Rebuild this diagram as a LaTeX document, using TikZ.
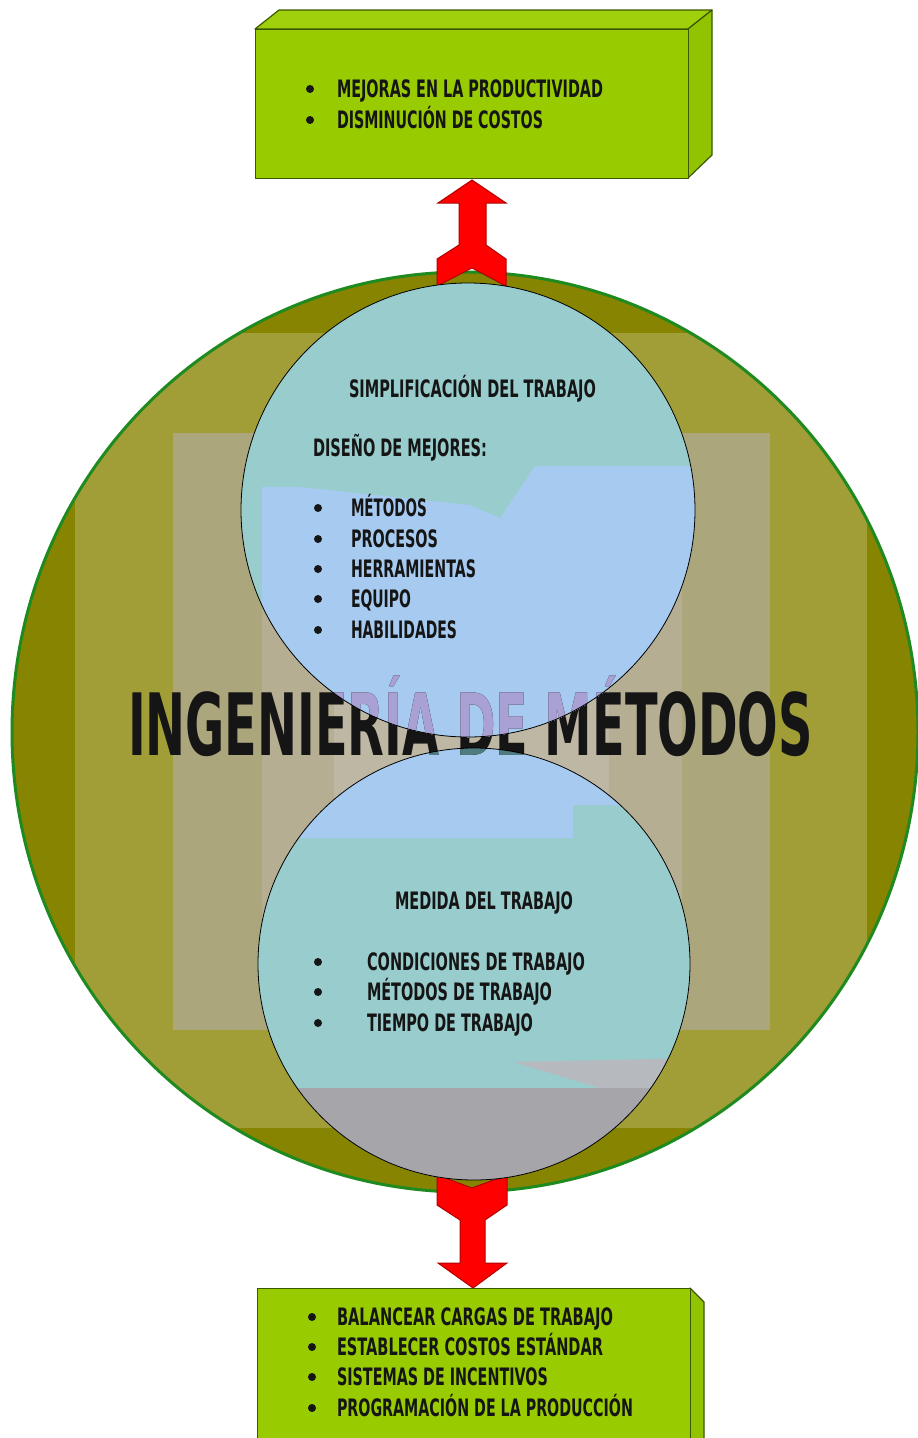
\documentclass[tikz,border=0pt]{standalone}
\usepackage{fontspec}
\usepackage{graphicx}
\newfontfamily\agency{DejaVu Sans}
\newcommand{\fw}[2]{\resizebox{#1pt}{\height}{#2}}
\definecolor{olivezero}{HTML}{868400}
\definecolor{bandA}{HTML}{A19E38}
\definecolor{bandB}{HTML}{ABA67C}
\definecolor{bandC}{HTML}{B5AE92}
\definecolor{bandD}{HTML}{BEB7A3}
\definecolor{cteal}{HTML}{99CCCC}
\definecolor{cblue}{HTML}{A6CAF0}
\definecolor{cgray}{HTML}{A5A5AA}
\definecolor{clgray}{HTML}{B6B9BD}
\definecolor{lav}{HTML}{A9A1D4}
\definecolor{dteal}{HTML}{4F7B7F}
\definecolor{boxgreen}{HTML}{99CC00}
\definecolor{boxtop}{HTML}{A0D00C}
\definecolor{boxside}{HTML}{92C300}
\definecolor{boxline}{HTML}{3B5800}
\definecolor{ringgreen}{HTML}{1F8A1F}
\definecolor{arrowred}{HTML}{FF0000}
\definecolor{arrowline}{HTML}{B00000}
\definecolor{ink}{HTML}{151515}
\begin{document}
\begin{tikzpicture}[x=1pt,y=-1pt,
  txt/.style={anchor=base west, inner sep=0pt, outer sep=0pt, text=ink,
    font=\agency\bfseries\fontsize{24}{24}\selectfont},
  ttl/.style={anchor=base west, inner sep=0pt, outer sep=0pt,
    font=\agency\bfseries\fontsize{86}{86}\selectfont},
  bul/.style={circle, fill=ink, inner sep=0pt, minimum size=8pt},
  face/.style={draw=boxline, line width=1.2pt, line join=round},
  redarrow/.style={fill=arrowred, draw=arrowline, line width=1pt, line join=miter},
  ring/.style={draw=black, line width=0.8pt}]
\useasboundingbox (0,0) rectangle (918,1438);

% big circle with rectangular gradient bands
\begin{scope}
  \clip (465,732) ellipse [x radius=453, y radius=460];
  \fill[olivezero] (0,250) rectangle (918,1200);
  \fill[bandA] (75,333) rectangle (867,1128);
  \fill[bandB] (173,433) rectangle (770,1030);
  \fill[bandC] (262,525) rectangle (682,935);
  \fill[bandD] (334,610) rectangle (609,850);
\end{scope}
\draw[ringgreen, line width=3pt] (465,732) ellipse [x radius=453, y radius=460];
\coordinate (bigc) at (465,732);

% red arrows
\draw[redarrow] (472,180) -- (506,203) -- (486,203) -- (486,245) -- (506,259) -- (506,286)
  -- (472,268) -- (437,286) -- (437,259) -- (459,245) -- (459,203) -- (438,203) -- cycle;
\draw[redarrow] (437,1175) -- (472,1188) -- (507,1175) -- (507,1205) -- (485,1220) -- (485,1263)
  -- (507,1263) -- (473,1288) -- (438,1263) -- (460,1263) -- (460,1220) -- (437,1205) -- cycle;

% upper circle
\begin{scope}
  \clip (468,510) circle [radius=227];
  \fill[cteal] (230,270) rectangle (710,750);
  \fill[cblue] (535,466) -- (710,466) -- (710,750) -- (230,750) -- (230,600) -- (262,600)
    -- (262,487) -- (300,487) -- (470,505) -- (500,518) -- cycle;
\end{scope}
% lower circle
\begin{scope}
  \clip (474,964) circle [radius=216];
  \fill[cteal] (250,740) rectangle (700,1190);
  \fill[cblue] (250,740) -- (700,740) -- (700,805) -- (573,805) -- (573,838) -- (250,838) -- cycle;
  \fill[clgray] (513,1062) -- (700,1058) -- (700,1088) -- (600,1088) -- cycle;
  \fill[cgray] (250,1088) rectangle (700,1190);
\end{scope}

% title
\node[ttl, text=ink] (title) at (128,755) {\fw{685}{INGENIERÍA DE MÉTODOS}};
\begin{scope}
  \clip (468,510) circle [radius=227];
  \node[ttl, text=lav] (titleU) at (128,755) {\fw{685}{INGENIERÍA DE MÉTODOS}};
\end{scope}
\begin{scope}
  \clip (474,964) circle [radius=216];
  \node[ttl, text=dteal] (titleL) at (128,755) {\fw{685}{INGENIERÍA DE MÉTODOS}};
\end{scope}

\node[circle, ring, minimum size=454pt, inner sep=0pt] (simp) at (468,510) {};
\node[circle, ring, minimum size=432pt, inner sep=0pt] (medi) at (474,964) {};

% upper circle text
\node[txt] (s0) at (349,397) {\fw{247}{SIMPLIFICACIÓN DEL TRABAJO}};
\node[txt] (s1) at (313,456) {\fw{174}{DISEÑO DE MEJORES:}};
\node[txt] (s2) at (351,516) {\fw{76}{MÉTODOS}};
\node[txt] (s3) at (351,547) {\fw{87}{PROCESOS}};
\node[txt] (s4) at (351,577) {\fw{125}{HERRAMIENTAS}};
\node[txt] (s5) at (351,607) {\fw{60}{EQUIPO}};
\node[txt] (s6) at (351,638) {\fw{106}{HABILIDADES}};
\node[bul] (sb2) at (318,508) {};
\node[bul] (sb3) at (318,539) {};
\node[bul] (sb4) at (318,569) {};
\node[bul] (sb5) at (318,599) {};
\node[bul] (sb6) at (318,630) {};

% lower circle text
\node[txt] (m0) at (395,909) {\fw{178}{MEDIDA DEL TRABAJO}};
\node[txt] (m1) at (367,970) {\fw{218}{CONDICIONES DE TRABAJO}};
\node[txt] (m2) at (367,1000) {\fw{185}{MÉTODOS DE TRABAJO}};
\node[txt] (m3) at (367,1031) {\fw{166}{TIEMPO DE TRABAJO}};
\node[bul] (mb1) at (318,962) {};
\node[bul] (mb2) at (318,992) {};
\node[bul] (mb3) at (318,1023) {};

% top box
\path[face, fill=boxtop] (255,29) -- (279,10) -- (712,10) -- (688,29) -- cycle;
\path[face, fill=boxside] (688,29) -- (712,10) -- (712,155) -- (688,178) -- cycle;
\node[face, fill=boxgreen, anchor=north west, minimum width=433pt, minimum height=149pt, inner sep=0pt] (topbox) at (255,29) {};
\node[txt] (t1) at (337,97) {\fw{266}{MEJORAS EN LA PRODUCTIVIDAD}};
\node[txt] (t2) at (337,128) {\fw{206}{DISMINUCIÓN DE COSTOS}};
\node[bul] (tb1) at (310,89) {};
\node[bul] (tb2) at (310,120) {};

% bottom box
\path[face, fill=boxside] (690,1288) -- (704,1302) -- (704,1450) -- (690,1450) -- cycle;
\node[face, fill=boxgreen, anchor=north west, minimum width=433pt, minimum height=160pt, inner sep=0pt] (botbox) at (257,1288) {};
\node[txt] (u1) at (337,1325) {\fw{276}{BALANCEAR CARGAS DE TRABAJO}};
\node[txt] (u2) at (337,1355) {\fw{266}{ESTABLECER COSTOS ESTÁNDAR}};
\node[txt] (u3) at (337,1385) {\fw{211}{SISTEMAS DE INCENTIVOS}};
\node[txt] (u4) at (337,1416) {\fw{296}{PROGRAMACIÓN DE LA PRODUCCIÓN}};
\node[bul] (ub1) at (312,1317) {};
\node[bul] (ub2) at (312,1347) {};
\node[bul] (ub3) at (312,1377) {};
\node[bul] (ub4) at (312,1408) {};
\end{tikzpicture}
\end{document}
